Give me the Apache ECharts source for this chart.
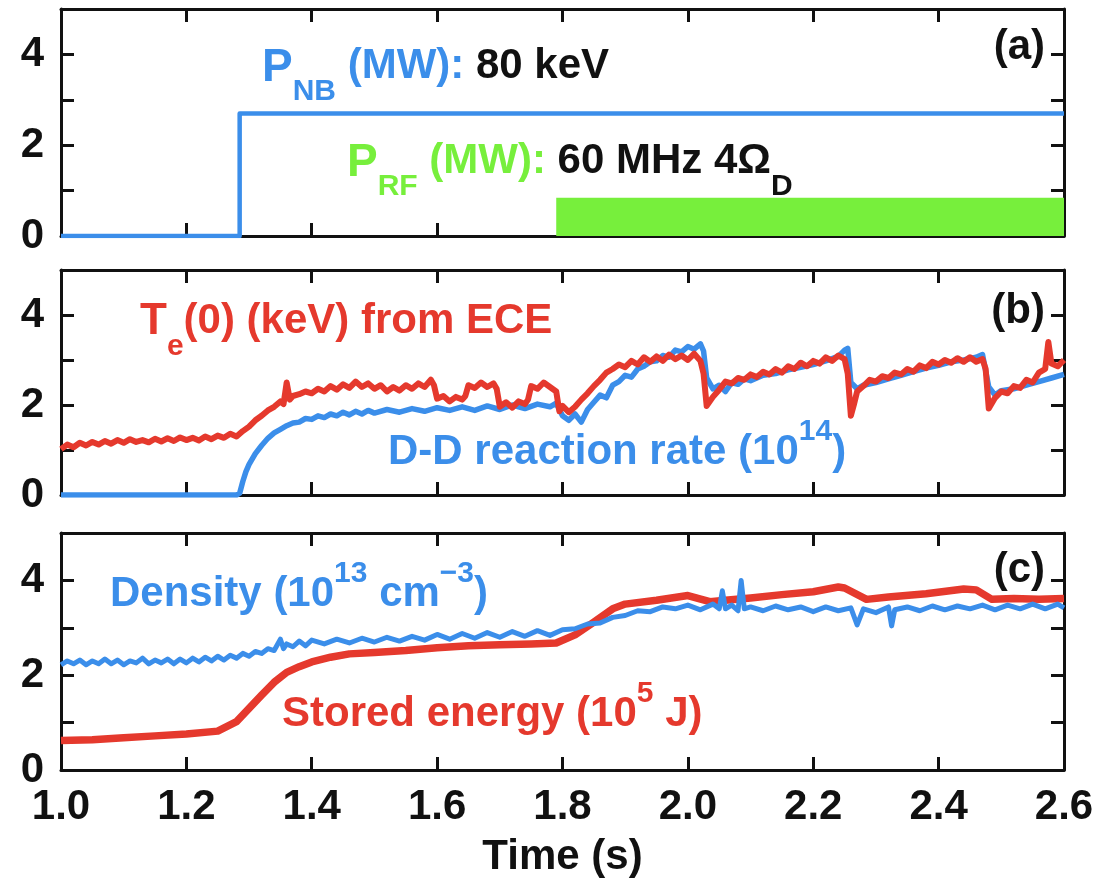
<!DOCTYPE html>
<html>
<head>
<meta charset="utf-8">
<script src="https://cdn.jsdelivr.net/npm/echarts@6/dist/echarts.min.js"></script>
<style>html,body{margin:0;padding:0;background:#fff}#c{width:1111px;height:881px}</style>
</head>
<body>
<div id="c"></div>
<script>
// ---------- data ----------
const timeTicks = [1.0, 1.2, 1.4, 1.6, 1.8, 2.0, 2.2, 2.4, 2.6];
const yTickLabels = [0, 2, 4];

// (a) beam power and RF power (MW)
const nbTime = [1.0, 1.285, 1.285, 2.6];
const nbPower = [0, 0, 2.7, 2.7];
const rfTime = [1.79, 2.6];
const rfPower = [0.84, 0.84];

// (b) central electron temperature (keV)
const teTime = [1.00,1.01,1.02,1.03,1.04,1.05,1.06,1.07,1.08,1.09,1.10,1.11,1.12,1.13,1.14,1.15,1.16,1.17,1.18,1.19,1.20,1.21,1.22,1.23,1.24,1.25,1.26,1.27,1.28,1.29,1.30,1.31,1.32,1.33,1.34,1.35,1.355,1.36,1.365,1.37,1.38,1.39,1.40,1.41,1.42,1.43,1.44,1.45,1.46,1.47,1.48,1.49,1.50,1.51,1.52,1.53,1.54,1.55,1.56,1.57,1.58,1.59,1.595,1.60,1.61,1.62,1.63,1.64,1.645,1.65,1.66,1.67,1.68,1.69,1.695,1.70,1.71,1.72,1.73,1.74,1.745,1.75,1.76,1.77,1.78,1.79,1.795,1.80,1.81,1.82,1.83,1.84,1.85,1.86,1.87,1.88,1.89,1.90,1.91,1.92,1.93,1.94,1.95,1.96,1.97,1.98,1.99,2.00,2.01,2.02,2.025,2.03,2.04,2.05,2.06,2.07,2.08,2.09,2.10,2.11,2.12,2.13,2.14,2.15,2.16,2.17,2.18,2.19,2.20,2.21,2.22,2.23,2.24,2.25,2.255,2.26,2.265,2.27,2.28,2.29,2.30,2.31,2.32,2.33,2.34,2.35,2.36,2.37,2.38,2.39,2.40,2.41,2.42,2.43,2.44,2.45,2.46,2.47,2.475,2.48,2.49,2.50,2.51,2.52,2.53,2.54,2.55,2.56,2.57,2.575,2.58,2.59,2.60];
const teValue = [1.02,1.12,1.06,1.16,1.10,1.18,1.12,1.20,1.14,1.22,1.16,1.24,1.18,1.22,1.17,1.25,1.19,1.26,1.20,1.28,1.22,1.27,1.21,1.30,1.24,1.32,1.27,1.36,1.30,1.42,1.52,1.66,1.76,1.88,1.96,2.08,2.02,2.50,2.12,2.20,2.24,2.30,2.26,2.36,2.30,2.42,2.34,2.46,2.38,2.52,2.40,2.48,2.36,2.44,2.30,2.40,2.32,2.44,2.36,2.48,2.40,2.56,2.44,2.14,2.20,2.08,2.18,2.12,2.20,2.44,2.38,2.50,2.40,2.48,2.36,1.96,2.06,1.94,2.08,2.02,2.12,2.42,2.36,2.50,2.40,2.30,1.86,1.98,1.84,1.96,2.12,2.26,2.42,2.56,2.72,2.80,2.90,2.84,2.98,2.90,3.06,2.96,3.08,2.98,3.12,3.02,3.10,3.00,3.14,2.98,2.70,1.98,2.18,2.34,2.52,2.48,2.60,2.56,2.68,2.62,2.74,2.68,2.80,2.72,2.86,2.80,2.94,2.86,2.98,2.92,3.06,2.98,3.10,3.02,2.70,1.76,2.02,2.30,2.42,2.56,2.52,2.64,2.60,2.72,2.68,2.80,2.74,2.88,2.82,2.96,2.90,3.00,2.94,3.04,2.96,3.06,2.96,3.02,2.80,1.92,2.16,2.30,2.26,2.42,2.38,2.56,2.50,2.72,2.80,3.40,2.92,2.86,3.00];

// (b) D-D reaction rate (1e14)
const ddTime = [1.00,1.28,1.285,1.29,1.295,1.30,1.31,1.32,1.33,1.34,1.35,1.36,1.37,1.38,1.39,1.40,1.41,1.42,1.43,1.44,1.45,1.46,1.47,1.48,1.49,1.50,1.52,1.54,1.56,1.58,1.60,1.62,1.64,1.66,1.68,1.70,1.72,1.74,1.76,1.78,1.79,1.80,1.81,1.82,1.83,1.84,1.85,1.86,1.87,1.88,1.89,1.90,1.91,1.92,1.93,1.94,1.95,1.96,1.97,1.98,1.99,2.00,2.01,2.02,2.025,2.03,2.04,2.05,2.06,2.07,2.08,2.09,2.10,2.12,2.14,2.16,2.18,2.20,2.22,2.24,2.25,2.255,2.26,2.27,2.28,2.30,2.32,2.34,2.36,2.38,2.40,2.42,2.44,2.46,2.47,2.48,2.49,2.50,2.52,2.54,2.56,2.58,2.60];
const ddValue = [0.00,0.00,0.04,0.30,0.52,0.68,0.92,1.10,1.26,1.38,1.46,1.54,1.60,1.62,1.70,1.68,1.76,1.72,1.80,1.76,1.84,1.78,1.86,1.80,1.88,1.82,1.90,1.84,1.92,1.86,1.94,1.88,1.96,1.88,1.98,1.90,2.00,1.92,2.02,1.96,2.04,1.76,1.66,1.80,1.62,1.90,2.06,2.22,2.16,2.44,2.52,2.66,2.62,2.80,2.86,2.96,2.98,3.10,3.06,3.22,3.18,3.30,3.24,3.36,3.20,2.60,2.36,2.44,2.30,2.50,2.46,2.58,2.54,2.66,2.70,2.78,2.84,2.90,2.98,3.08,3.22,3.26,2.50,2.36,2.44,2.50,2.58,2.66,2.74,2.82,2.88,2.96,3.00,3.06,3.12,2.40,2.22,2.32,2.36,2.44,2.52,2.60,2.68];

// (c) line density (1e13 cm^-3)
const neTime = [1.00,1.01,1.02,1.03,1.04,1.05,1.06,1.07,1.08,1.09,1.10,1.11,1.12,1.13,1.14,1.15,1.16,1.17,1.18,1.19,1.20,1.21,1.22,1.23,1.24,1.25,1.26,1.27,1.28,1.29,1.30,1.31,1.32,1.33,1.34,1.35,1.355,1.36,1.37,1.38,1.39,1.40,1.42,1.44,1.46,1.48,1.50,1.52,1.54,1.56,1.58,1.60,1.62,1.64,1.66,1.68,1.70,1.72,1.74,1.76,1.78,1.80,1.82,1.84,1.86,1.88,1.90,1.92,1.94,1.96,1.98,2.00,2.02,2.04,2.05,2.055,2.06,2.07,2.08,2.085,2.09,2.10,2.12,2.14,2.16,2.18,2.20,2.22,2.24,2.26,2.27,2.28,2.30,2.32,2.325,2.33,2.35,2.37,2.39,2.41,2.43,2.45,2.47,2.49,2.51,2.53,2.55,2.57,2.59,2.60];
const neValue = [2.22,2.30,2.24,2.32,2.22,2.30,2.24,2.34,2.24,2.32,2.22,2.30,2.26,2.36,2.24,2.32,2.26,2.34,2.24,2.34,2.26,2.36,2.28,2.38,2.30,2.40,2.32,2.42,2.36,2.46,2.40,2.50,2.46,2.56,2.52,2.76,2.56,2.66,2.60,2.72,2.62,2.74,2.66,2.76,2.68,2.78,2.70,2.80,2.72,2.82,2.74,2.86,2.76,2.88,2.78,2.90,2.80,2.92,2.82,2.94,2.84,2.96,2.98,3.08,3.10,3.22,3.26,3.36,3.34,3.44,3.40,3.48,3.38,3.50,3.40,3.78,3.40,3.48,3.36,4.00,3.40,3.44,3.36,3.46,3.38,3.44,3.34,3.44,3.36,3.42,3.06,3.40,3.32,3.44,3.04,3.38,3.44,3.36,3.46,3.38,3.46,3.40,3.48,3.38,3.48,3.40,3.50,3.40,3.50,3.42];

// (c) stored energy (1e5 J)
const wpTime = [1.00,1.05,1.10,1.15,1.20,1.25,1.28,1.30,1.32,1.34,1.36,1.38,1.40,1.43,1.46,1.50,1.55,1.60,1.65,1.70,1.75,1.79,1.82,1.85,1.88,1.90,1.95,2.00,2.035,2.06,2.10,2.15,2.20,2.24,2.25,2.285,2.32,2.38,2.44,2.46,2.485,2.52,2.56,2.60];
const wpValue = [0.62,0.64,0.68,0.72,0.76,0.82,1.02,1.30,1.58,1.85,2.06,2.18,2.28,2.38,2.45,2.48,2.52,2.58,2.62,2.64,2.66,2.68,2.85,3.12,3.40,3.50,3.58,3.68,3.55,3.58,3.63,3.70,3.76,3.86,3.84,3.60,3.65,3.72,3.82,3.80,3.60,3.62,3.60,3.62];

// ---------- styling ----------
const FONT = "'Liberation Sans', Arial, Helvetica, sans-serif";
const BLUE = '#3b8eea', RED = '#e5392d', GREEN = '#77ef3c', INK = '#111';
const zip = (a, b) => a.map((t, i) => [t, b[i]]);

const grids = [
  { left: 61, right: 47, top: 9, height: 227 },
  { left: 61, right: 47, top: 270, height: 225 },
  { left: 61, right: 47, top: 533, height: 237 }
];

const lineAx = { show: true, onZero: false, lineStyle: { color: INK, width: 3 } };
const tickAx = { show: true, inside: true, length: 13, lineStyle: { color: INK, width: 3 } };
const lblStyle = { fontFamily: FONT, fontWeight: 'bold', fontSize: 42, color: INK };

const xAxes = [], yAxes = [];
grids.forEach((g, i) => {
  const isLast = i === grids.length - 1;
  xAxes.push({
    gridIndex: i, type: 'value', position: 'bottom', min: timeTicks[0], max: timeTicks[timeTicks.length - 1], interval: 0.2,
    axisLine: lineAx, axisTick: tickAx, splitLine: { show: false },
    axisLabel: Object.assign({ show: isLast, margin: 16, formatter: v => v.toFixed(1) }, lblStyle),
    name: isLast ? 'Time (s)' : '', nameLocation: 'middle', nameGap: 66,
    nameTextStyle: lblStyle
  });
  xAxes.push({
    gridIndex: i, type: 'value', position: 'top', min: timeTicks[0], max: timeTicks[timeTicks.length - 1], interval: 0.2,
    axisLine: lineAx, axisTick: tickAx, splitLine: { show: false }, axisLabel: { show: false }
  });
  yAxes.push({
    gridIndex: i, type: 'value', position: 'left', min: 0, max: 5, interval: 1,
    axisLine: lineAx, axisTick: tickAx, splitLine: { show: false },
    axisLabel: Object.assign({ margin: 17, formatter: v => yTickLabels.indexOf(v) >= 0 ? String(v) : '' }, lblStyle)
  });
  yAxes.push({
    gridIndex: i, type: 'value', position: 'right', min: 0, max: 5, interval: 1,
    axisLine: lineAx, axisTick: tickAx, splitLine: { show: false }, axisLabel: { show: false }
  });
});

function line(name, xi, yi, data, color, width, z) {
  return { name, type: 'line', xAxisIndex: xi, yAxisIndex: yi, data, showSymbol: false, symbol: 'none',
    lineStyle: { color, width, join: 'round' }, itemStyle: { color }, z, animation: false, clip: true };
}

const series = [
  { name: 'P_RF', type: 'line', xAxisIndex: 0, yAxisIndex: 0, data: zip(rfTime, rfPower), showSymbol: false, symbol: 'none',
    lineStyle: { width: 0, opacity: 0 }, areaStyle: { color: GREEN, opacity: 1 }, itemStyle: { color: GREEN }, z: 2, animation: false },
  line('P_NB', 0, 0, zip(nbTime, nbPower), BLUE, 4.5, 3),
  line('D-D', 2, 2, zip(ddTime, ddValue), BLUE, 5.5, 3),
  line('Te', 2, 2, zip(teTime, teValue), RED, 6, 4),
  line('Wp', 4, 4, zip(wpTime, wpValue), RED, 7.5, 3),
  line('ne', 4, 4, zip(neTime, neValue), BLUE, 5, 4)
];

// ---------- annotation texts ----------
const base = { fontFamily: FONT, fontWeight: 'bold' };
function main(fill, size, padTop) {
  return Object.assign({ fill, fontSize: size || 42, lineHeight: 44, verticalAlign: 'top', padding: [padTop || 0, 0, 0, 0] }, base);
}
function sub(fill) { return Object.assign({ fill, fontSize: 30, lineHeight: 30, verticalAlign: 'top', padding: [32, 0, 0, 0] }, base); }
function sup(fill) { return Object.assign({ fill, fontSize: 30, lineHeight: 30, verticalAlign: 'top', padding: [0, 0, 0, 0] }, base); }
function txt(x, y, text, rich) {
  return { type: 'text', x, y, z: 100, style: { text, rich, align: 'left', verticalAlign: 'top' } };
}
const graphics = [
  txt(262, 45, '{p|P}{s|NB}{m| (MW):}{k| 80 keV}', { p: main(BLUE, 46), s: sub(BLUE), m: main(BLUE), k: main(INK) }),
  txt(347, 140, '{p|P}{s|RF}{m| (MW):}{k| 60 MHz 4Ω}{d|D}', { p: main(GREEN, 46), s: sub(GREEN), m: main(GREEN), k: main(INK), d: sub(INK) }),
  txt(140, 300, '{p|T}{s|e}{m|(0) (keV) from ECE}', { p: main(RED, 44), s: sub(RED), m: main(RED) }),
  txt(388, 417, '{m|D-D reaction rate (10}{u|14}{n|)}', { m: main(BLUE, 42, 14), u: sup(BLUE), n: main(BLUE, 42, 14) }),
  txt(110, 559, '{m|Density (10}{u|13}{n| cm}{v|−3}{w|)}', { m: main(BLUE, 42, 14), u: sup(BLUE), n: main(BLUE, 42, 14), v: sup(BLUE), w: main(BLUE, 42, 14) }),
  txt(282, 679, '{m|Stored energy (10}{u|5}{n| J)}', { m: main(RED, 42, 14), u: sup(RED), n: main(RED, 42, 14) }),
  { type: 'text', x: 1045, y: 47, z: 100, style: Object.assign({ text: '(a)', fill: INK, fontSize: 42, align: 'right', verticalAlign: 'middle' }, base) },
  { type: 'text', x: 1045, y: 311, z: 100, style: Object.assign({ text: '(b)', fill: INK, fontSize: 42, align: 'right', verticalAlign: 'middle' }, base) },
  { type: 'text', x: 1045, y: 570, z: 100, style: Object.assign({ text: '(c)', fill: INK, fontSize: 42, align: 'right', verticalAlign: 'middle' }, base) }
];

const chart = echarts.init(document.getElementById('c'), null, { renderer: 'canvas' });
chart.setOption({
  animation: false,
  backgroundColor: '#fff',
  grid: grids,
  xAxis: xAxes,
  yAxis: yAxes,
  series,
  graphic: graphics
});
</script>
</body>
</html>
